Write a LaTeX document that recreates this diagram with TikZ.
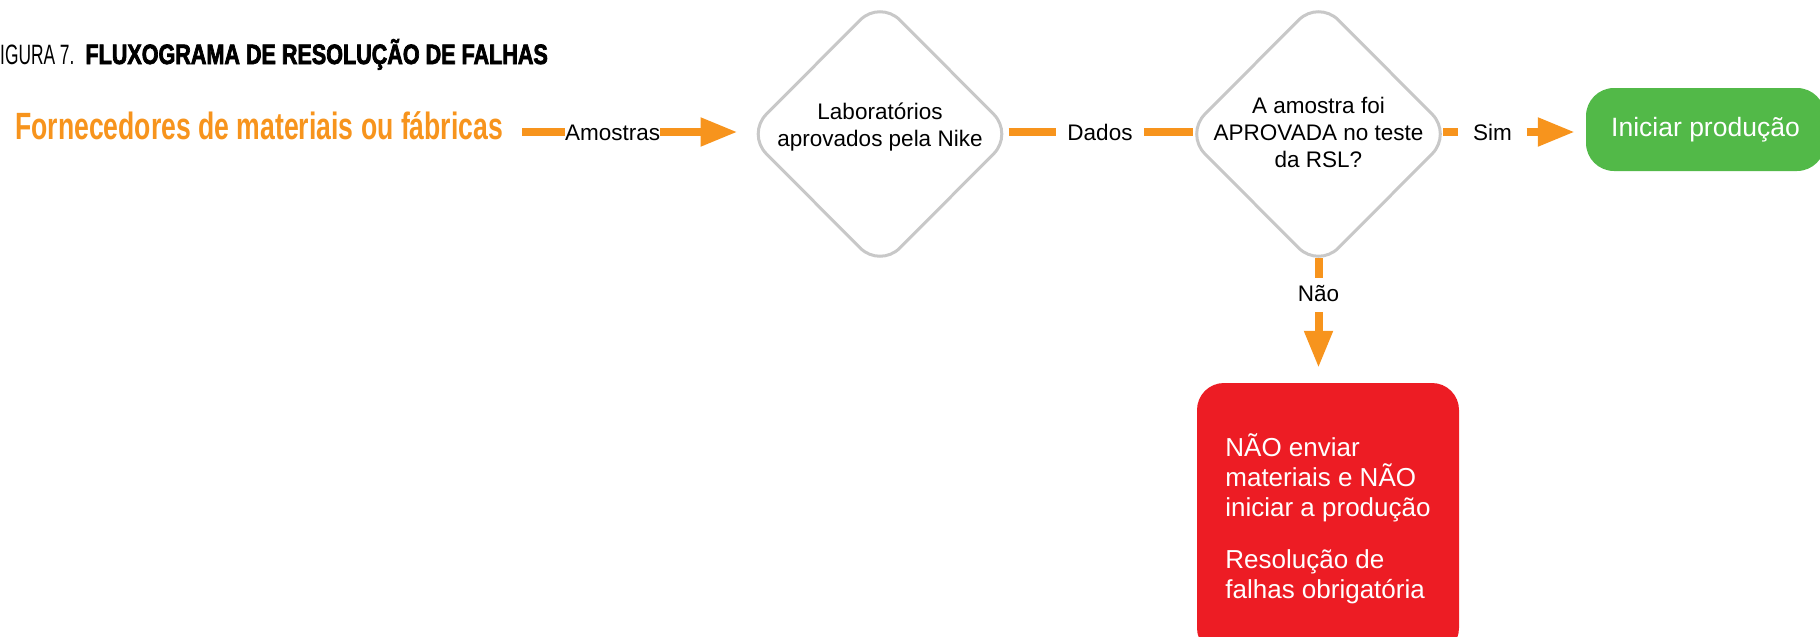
\documentclass[tikz,border=0pt]{standalone}
\usepackage{fontspec}
\setmainfont{Liberation Sans}
\newfontfamily\fornfont[FakeStretch=0.70]{Liberation Sans Bold}
\newfontfamily\titlebold[FakeStretch=0.77,FakeBold=2.5]{Liberation Sans Bold}
\newfontfamily\titlereg[FakeStretch=0.62]{Liberation Sans}
\usetikzlibrary{arrows.meta,shapes.geometric}
\definecolor{nkorange}{RGB}{247,148,29}
\definecolor{nkgreen}{RGB}{82,185,72}
\definecolor{nkred}{RGB}{237,28,36}
\definecolor{nkgray}{RGB}{200,200,200}
\begin{document}
\begin{tikzpicture}[x=1pt,y=-1pt,
  lbl/.style={font=\fontsize{22.5}{27}\selectfont, text=black, inner sep=0pt, text height=16pt, text depth=0pt},
  decision/.style={diamond, draw=nkgray, line width=3pt, rounded corners=28pt, minimum width=268pt, minimum height=269pt, inner sep=0pt, fill=white},
  dtext/.style={font=\fontsize{22.5}{27}\selectfont, align=center, inner sep=0pt},
  bar/.style={draw=nkorange, line width=8pt},
  flow/.style={bar, -{Triangle[length=37pt,width=27pt]}},
  gbox/.style={fill=nkgreen, text=white, rounded corners=28pt, minimum width=239pt, minimum height=83pt, inner sep=0pt, font=\fontsize{26.5}{30}\selectfont},
  rbox/.style={fill=nkred, text=white, rounded corners=27pt, minimum width=262pt, minimum height=272pt, inner sep=0pt, align=left, font=\fontsize{26}{30}\selectfont}
]
\useasboundingbox (0,0) rectangle (1820,637);
\node[anchor=base west, inner sep=0pt, font=\fontsize{28}{30}\selectfont] (title) at (0,64) {\titlereg IGURA 7.\hspace{11pt}\titlebold FLUXOGRAMA DE RESOLUÇÃO DE FALHAS};
\node[anchor=base west, inner sep=0pt, text=nkorange, font=\fornfont\fontsize{38}{40}\selectfont] (forn) at (15,139) {Fornecedores de materiais ou fábricas};
\node[lbl, anchor=west] (amos) at (565,132) {Amostras};
\node[decision] (lab) at (880,134) {};
\node[dtext] (labt) at (880,127) {Laboratórios\\aprovados pela Nike};
\node[lbl, inner xsep=11.5pt] (dados) at (1100,132) {Dados};
\node[decision] (q) at (1318.5,134) {};
\node[dtext] (qt) at (1318.5,132) {A amostra foi\\APROVADA no teste\\da RSL?};
\node[lbl, inner xsep=14.5pt] (sim) at (1492.5,132) {Sim};
\node[gbox] (go) at (1705.5,129.5) {Iniciar produção};
\node[lbl] (nao) at (1318.5,293) {Não};
\node[rbox] (stop) at (1328,519) {NÃO enviar\\materiais e NÃO\\iniciar a produção\\[22pt]Resolução de\\falhas obrigatória};
\draw[bar, shorten <=19pt] (forn.east |- amos.west) -- (amos.west);
\draw[flow, shorten >=7pt] (amos.east) -- (amos.east -| lab.west);
\draw[bar, shorten <=-7pt] (lab.east |- dados.west) -- (dados.west);
\draw[bar, shorten >=-10pt] (dados.east) -- (dados.east -| q.west);
\draw[bar, shorten <=-11pt] (q.east |- sim.west) -- (sim.west);
\draw[flow, shorten >=11pt] (sim.east) -- (sim.east -| go.west);
\draw[bar, shorten <=-12pt, shorten >=7pt] (q.south) -- (nao.north);
\draw[flow, shorten <=11pt, shorten >=15pt] (nao.south) -- (nao.south |- stop.north);
\end{tikzpicture}
\end{document}
